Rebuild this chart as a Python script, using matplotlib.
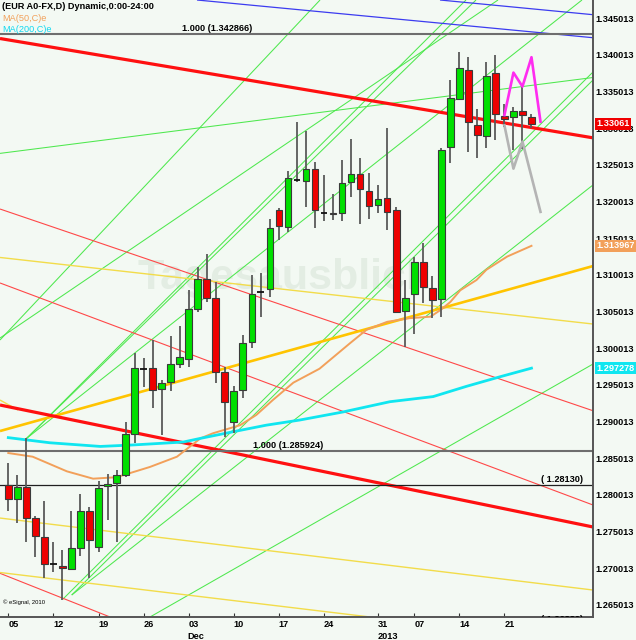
import matplotlib
matplotlib.use('Agg')
import matplotlib.pyplot as plt
import matplotlib.transforms as mtransforms

# daily candles, Nov 2012 - Jan 2013 (index = trading day)
opens = [1.2813, 1.2794, 1.2811, 1.2768, 1.2743, 1.2705, 1.2703, 1.2699, 1.2728, 1.2778,
         1.2729, 1.2812, 1.2816, 1.2827, 1.2883, 1.2972, 1.2973, 1.2944, 1.2954, 1.2979,
         1.2985, 1.3054, 1.3095, 1.3068, 1.2968, 1.2899, 1.2943, 1.3008, 1.3077, 1.3081,
         1.3188, 1.3165, 1.3229, 1.3228, 1.3245, 1.3185, 1.3185, 1.3185, 1.3227, 1.3238,
         1.3214, 1.3195, 1.3205, 1.3189, 1.3051, 1.3074, 1.3118, 1.3082, 1.3067, 1.3274,
         1.3340, 1.3380, 1.3305, 1.3290, 1.3375, 1.3317, 1.3315, 1.3323, 1.3315]
highs = [1.2843, 1.2827, 1.2877, 1.2771, 1.2791, 1.2736, 1.2725, 1.2778, 1.2801, 1.2784,
         1.2819, 1.2829, 1.2834, 1.2900, 1.2993, 1.2987, 1.3011, 1.2957, 1.3017, 1.3030,
         1.3079, 1.3111, 1.3129, 1.3091, 1.2975, 1.2948, 1.3018, 1.3100, 1.3103, 1.3176,
         1.3191, 1.3242, 1.3309, 1.3297, 1.3254, 1.3236, 1.3210, 1.3257, 1.3286, 1.3259,
         1.3239, 1.3223, 1.3301, 1.3193, 1.3093, 1.3125, 1.3143, 1.3099, 1.3273, 1.3366,
         1.3404, 1.3397, 1.3326, 1.3390, 1.3400, 1.3333, 1.3329, 1.3358, 1.3320]
lows = [1.2778, 1.2762, 1.2735, 1.2715, 1.2686, 1.2695, 1.2657, 1.2697, 1.2716, 1.2687,
        1.2722, 1.2765, 1.2735, 1.2824, 1.2870, 1.2947, 1.2918, 1.2882, 1.2942, 1.2973,
        1.2975, 1.3049, 1.3063, 1.2952, 1.2879, 1.2884, 1.2932, 1.3000, 1.3043, 1.3070,
        1.3148, 1.3159, 1.3227, 1.3192, 1.3164, 1.3174, 1.3175, 1.3174, 1.3206, 1.3170,
        1.3176, 1.3185, 1.3161, 1.3048, 1.3002, 1.3020, 1.3061, 1.3041, 1.3042, 1.3252,
        1.3339, 1.3267, 1.3260, 1.3273, 1.3284, 1.3302, 1.3270, 1.3272, 1.3300]
closes = [1.2794, 1.2811, 1.2769, 1.2744, 1.2705, 1.2704, 1.2700, 1.2728, 1.2778, 1.2738,
          1.2809, 1.2815, 1.2827, 1.2883, 1.2973, 1.2971, 1.2943, 1.2952, 1.2979, 1.2988,
          1.3054, 1.3094, 1.3069, 1.2968, 1.2927, 1.2941, 1.3007, 1.3074, 1.3076, 1.3164,
          1.3167, 1.3232, 1.3228, 1.3244, 1.3189, 1.3184, 1.3183, 1.3226, 1.3238, 1.3217,
          1.3194, 1.3203, 1.3186, 1.3050, 1.3068, 1.3117, 1.3083, 1.3066, 1.3270, 1.3341,
          1.3382, 1.3308, 1.3291, 1.3372, 1.3319, 1.3313, 1.3323, 1.3318, 1.33061]

# moving averages (sampled along the curve)
ma50_x = [0, 2.7, 6.5, 9.4, 12.0, 15.7, 18.7, 21.3, 22.7, 25.7, 27.5, 29.3, 31.6, 34.5,
          37.9, 39.7, 42.0, 44.5, 46.8, 47.9, 49.0, 50.1, 51.9, 53.0, 55.3, 58.0]
ma50_p = [1.2857, 1.2852, 1.2832, 1.2822, 1.2824, 1.2838, 1.2852, 1.2877, 1.2884, 1.2895,
          1.2909, 1.2929, 1.2953, 1.2972, 1.3007, 1.3025, 1.3036, 1.3041, 1.3043, 1.3052,
          1.3063, 1.3079, 1.3093, 1.3107, 1.3125, 1.313967]
ma200_x = [0, 4.6, 10.2, 13.8, 19.4, 21.3, 24.9, 28.6, 32.3, 37.1, 42.3, 47.1, 50.8, 54.5, 58.0]
ma200_p = [1.2878, 1.2871, 1.2866, 1.2868, 1.2872, 1.2877, 1.2886, 1.2895, 1.2902, 1.2913,
           1.2927, 1.2934, 1.2948, 1.2961, 1.297278]

# projected paths
proj_up_x = [55, 56, 57, 58, 59]
proj_up_p = [1.3318, 1.3376, 1.3357, 1.3397, 1.3309]
proj_dn_x = [55, 56, 57, 59]
proj_dn_p = [1.3304, 1.3245, 1.3282, 1.3186]

# trend lines: (x0, p0, x1, p1)
green_lines = [(-0.92, 1.32658, 64.82, 1.33693),
               (-0.92, 1.30112, 34.56, 1.347505),
               (-0.92, 1.30139, 54.29, 1.347505),
               (2.04, 1.28771, 50.74, 1.347505),
               (2.04, 1.28771, 51.85, 1.347505),
               (2.04, 1.28771, 63.60, 1.347505),
               (6.03, 1.26574, 64.82, 1.33768),
               (7.03, 1.26633, 64.82, 1.33659),
               (7.03, 1.26633, 64.82, 1.32227),
               (15.71, 1.26333, 64.82, 1.29784)]
red_thick = [(-0.92, 1.34225, 64.82, 1.32870),
             (-0.92, 1.29225, 64.82, 1.27561)]
red_thin = [(-0.92, 1.31899, 64.82, 1.29147),
            (-0.92, 1.30890, 64.82, 1.27861),
            (-0.92, 1.26929, 11.28, 1.26333)]
gold_thick = [(-0.92, 1.28870, 64.82, 1.31121)]
yellow_thin = [(-0.92, 1.31238, 64.82, 1.30330),
               (-0.92, 1.27683, 64.82, 1.26701),
               (-0.92, 1.26940, 40.10, 1.26333),
               (-0.92, 1.29293, 1.08, 1.29157)]
blue_lines = [(47.86, 1.347505, 64.82, 1.34550),
              (20.92, 1.347505, 64.82, 1.34236)]

levels = [1.342866, 1.285924, 1.28130]

tick_idx = [0, 5, 10, 15, 20, 25, 30, 35, 41, 45, 50, 55]
tick_lab = ['05', '12', '19', '26', '03', '10', '17', '24', '31', '07', '14', '21']
month_idx = [20, 41]
month_lab = ['Dec', '2013']
ytick_vals = [1.265013 + 0.005 * k for k in range(17)]

bg = '#f3f9f3'
plt.rcParams['font.family'] = ['Liberation Sans', 'DejaVu Sans']

fig = plt.figure(figsize=(6.36, 6.4), dpi=100)
fig.patch.set_facecolor(bg)
ax = fig.add_axes([0, 23 / 640, 593 / 636, 617 / 640])
ax.set_facecolor(bg)
ax.set_xlim(-0.92, 64.82)
ax.set_ylim(1.26333, 1.347505)

# watermark
ax.text(30.6, 1.3096, 'Tagesausblick', fontsize=31, fontweight='bold', color='#e3ede3',
        ha='center', va='center', zorder=0.5)

def draw(lines, color, lw, z=2):
    for x0, p0, x1, p1 in lines:
        ax.plot([x0, x1], [p0, p1], color=color, lw=lw, zorder=z, solid_capstyle='butt')

draw(green_lines, '#4ee84e', 0.75)
draw(red_thin, '#ff4848', 0.8)
draw(yellow_thin, '#f2dc4a', 1.0)
draw(blue_lines, '#3c3cf0', 0.9)
draw(gold_thick, '#ffc400', 1.9)
draw(red_thick, '#ff1010', 2.3)

ax.axhline(levels[0], color='#6e6e6e', lw=1.5, zorder=2.5)
ax.axhline(levels[1], color='#6e6e6e', lw=1.5, zorder=2.5)
ax.axhline(levels[2], color='#202020', lw=0.9, zorder=2.5)

ax.plot(ma50_x, ma50_p, color='#f2a05a', lw=1.4, zorder=3)
ax.plot(ma200_x, ma200_p, color='#10e6f0', lw=2.0, zorder=3)

# candles
for i, (o, h, l, c) in enumerate(zip(opens, highs, lows, closes)):
    ax.vlines(i, l, h, color='#5a5a5a', lw=1.3, zorder=4)
    if abs(c - o) < 0.00015:
        ax.hlines(o, i - 0.38, i + 0.38, color='#111111', lw=1.3, zorder=5)
        continue
    col = '#00e000' if c > o else '#ee0000'
    ax.bar(i, abs(c - o), bottom=min(o, c), width=0.74, color=col,
           edgecolor='#3a3a3a', linewidth=0.8, zorder=5)

ax.plot(proj_up_x, proj_up_p, color='#ff2cf0', lw=1.9, zorder=6)
ax.plot(proj_dn_x, proj_dn_p, color='#b4b4b4', lw=1.9, zorder=6)

# chart texts
ax.text(19.3, levels[0] + 0.0002, '1.000 (1.342866)', fontsize=6.6, fontweight='bold',
        va='bottom', ha='left', zorder=7)
ax.text(27.1, levels[1] + 0.0002, '1.000 (1.285924)', fontsize=6.6, fontweight='bold',
        va='bottom', ha='left', zorder=7)
ax.text(59.1, levels[2] + 0.0002, '( 1.28130)', fontsize=6.6, fontweight='bold',
        va='bottom', ha='left', zorder=7)
ax.text(59.1, 1.26305, '( 1.26330)', fontsize=6.6, fontweight='bold',
        va='center', ha='left', zorder=7, clip_on=True)

ax.text(0.003, 0.997, '(EUR A0-FX,D) Dynamic,0:00-24:00', transform=ax.transAxes,
        fontsize=6.6, fontweight='bold', va='top', ha='left', zorder=8)
ax.text(0.003, 0.978, 'MA(50,C)e', transform=ax.transAxes, fontsize=6.6,
        color='#f2a05a', va='top', ha='left', zorder=8)
ax.text(0.003, 0.959, 'MA(200,C)e', transform=ax.transAxes, fontsize=6.6,
        color='#10d8f0', va='top', ha='left', zorder=8)
ax.text(0.005, 0.024, '\u00a9 eSignal, 2010', transform=ax.transAxes, fontsize=4.2,
        va='center', ha='left', zorder=8)

# axes styling
for s in ['left', 'top']:
    ax.spines[s].set_visible(False)
for s in ['right', 'bottom']:
    ax.spines[s].set_color('#555555')
    ax.spines[s].set_linewidth(1.4)

ax.yaxis.tick_right()
ax.set_yticks(ytick_vals)
ax.set_yticklabels(['%.6f' % v for v in ytick_vals], fontsize=6.6, fontweight='bold')
ax.tick_params(axis='y', length=0, pad=2)

ax.set_xticks(tick_idx)
ax.set_xticklabels(tick_lab, fontsize=6.6, fontweight='bold', ha='left')
ax.tick_params(axis='x', direction='in', length=3, pad=2.5, color='#333333')
trans = mtransforms.blended_transform_factory(ax.transData, ax.transAxes)
for xi, lab in zip(month_idx, month_lab):
    ax.text(xi - 0.1, -0.031, lab, transform=trans, fontsize=6.6, fontweight='bold',
            ha='left', va='center', clip_on=False)

# price tags on the right axis (they sit over the nearby scale labels, as in the source)
tagtrans = mtransforms.blended_transform_factory(ax.transAxes, ax.transData)
for val, txt, col in [(1.33061, '1.33061', '#f00000'), (1.313967, '1.313967', '#f2a05a'),
                      (1.297278, '1.297278', '#10e6f0')]:
    ax.text(1.006, val, txt, transform=tagtrans, fontsize=6.6, fontweight='bold',
            color='white', ha='left', va='center', clip_on=False, zorder=9,
            bbox=dict(boxstyle='square,pad=0.15', fc=col, ec='none'))

fig.savefig('out.png', dpi=100, facecolor=bg)
